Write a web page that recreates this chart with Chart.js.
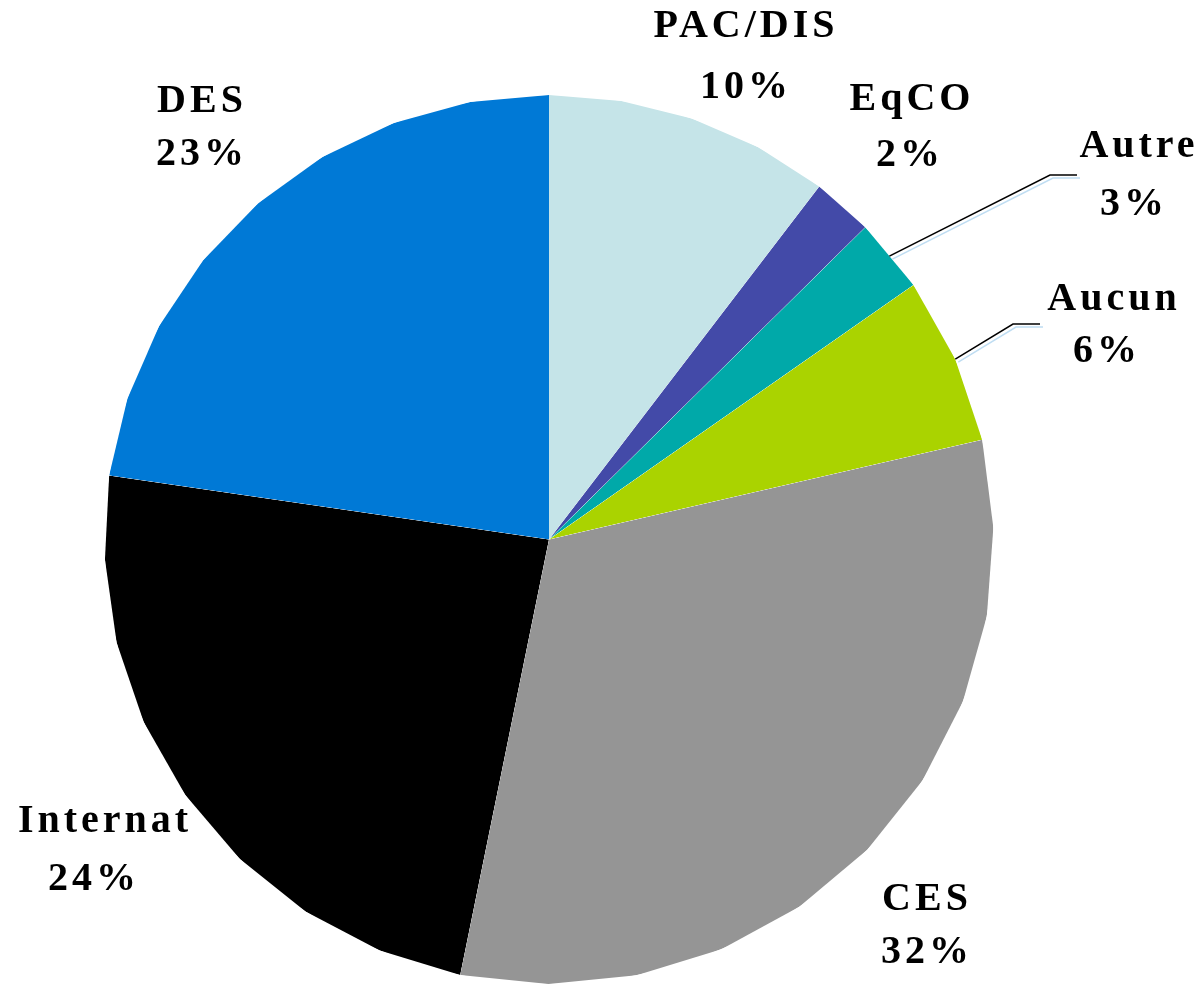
<!DOCTYPE html>
<html>
<head>
<meta charset="utf-8">
<script src="https://cdn.jsdelivr.net/npm/chart.js@4.4.1/dist/chart.umd.min.js"></script>
<style>
  html, body { margin: 0; padding: 0; background: #ffffff; }
  #wrap { position: relative; width: 1200px; height: 984px; }
</style>
</head>
<body>
<div id="wrap"><canvas id="c"></canvas></div>
<script>
// ---- data ----
const categories = ['PAC/DIS', 'EqCO', 'Autre', 'Aucun', 'CES', 'Internat', 'DES'];
const shares = [10.4, 2.2, 2.7, 6.1, 31.8, 24.1, 22.7];
const sliceColors = ['#C5E4E8', '#434AA8', '#00A9A9', '#AAD300', '#959595', '#000000', '#0079D6'];

// ---- label layout (text centre x, name baseline, percent baseline, percent centre x) ----
const labelLayout = [
  { x: 744,  y1: 37,  y2: 98,  x2: 744 },
  { x: 910,  y1: 110, y2: 166, x2: 908 },
  { x: 1137, y1: 157, y2: 215, x2: 1132 },
  { x: 1112, y1: 310, y2: 362, x2: 1105 },
  { x: 925,  y1: 910, y2: 963, x2: 925 },
  { x: 103,  y1: 832, y2: 890, x2: 92 },
  { x: 200,  y1: 112, y2: 165, x2: 200 }
];
// leader lines for small slices (index -> [label elbow, label end])
const leaders = {
  2: [[1050, 175], [1077, 175]],
  3: [[1013, 324], [1040, 324]]
};

// each slice's rim is drawn as straight segments no wider than this angle
const maxSegmentDeg = 11.5;
function segCount(arc) {
  const sweep = (arc.endAngle - arc.startAngle) * 180 / Math.PI;
  return Math.max(1, Math.ceil(sweep / maxSegmentDeg - 1e-6));
}

const polySlices = {
  id: 'polySlices',
  beforeDatasetsDraw(chart) {
    const ctx = chart.ctx;
    const meta = chart.getDatasetMeta(0);
    meta.data.forEach(arc => {
      const cx = arc.x, cy = arc.y, r = arc.outerRadius;
      const n = segCount(arc);
      const step = (arc.endAngle - arc.startAngle) / n;
      ctx.save();
      ctx.beginPath();
      ctx.moveTo(cx, cy);
      for (let k = 0; k <= n; k++) {
        const a = arc.startAngle + k * step;
        ctx.lineTo(cx + r * Math.cos(a), cy + r * Math.sin(a));
      }
      ctx.closePath();
      ctx.clip();
      arc.draw(ctx, chart.chartArea);
      ctx.restore();
    });
    return false;
  }
};

const labelsPlugin = {
  id: 'labelsPlugin',
  afterDraw(chart) {
    const ctx = chart.ctx;
    const meta = chart.getDatasetMeta(0);
    const total = shares.reduce((a, b) => a + b, 0);
    ctx.save();
    // leader lines
    Object.keys(leaders).forEach(k => {
      const i = +k;
      const arc = meta.data[i];
      const n = segCount(arc);
      const step = (arc.endAngle - arc.startAngle) / n;
      const mid = (arc.startAngle + arc.endAngle) / 2;
      const r = (n % 2 === 1) ? arc.outerRadius * Math.cos(step / 2) : arc.outerRadius;
      const sx = arc.x + r * Math.cos(mid), sy = arc.y + r * Math.sin(mid);
      const [e, f] = leaders[k];
      ctx.strokeStyle = '#BFDDF2';
      ctx.lineWidth = 1.5;
      ctx.beginPath();
      ctx.moveTo(sx + 3, sy + 3); ctx.lineTo(e[0] + 3, e[1] + 3); ctx.lineTo(f[0] + 3, f[1] + 3);
      ctx.stroke();
      ctx.strokeStyle = '#000000';
      ctx.lineWidth = 1.5;
      ctx.beginPath();
      ctx.moveTo(sx, sy); ctx.lineTo(e[0], e[1]); ctx.lineTo(f[0], f[1]);
      ctx.stroke();
    });
    ctx.fillStyle = '#000000';
    ctx.font = 'bold 40px "Liberation Serif", "Times New Roman", serif';
    ctx.textAlign = 'center';
    ctx.textBaseline = 'alphabetic';
    try { ctx.letterSpacing = '4px'; } catch (e) {}
    categories.forEach((name, i) => {
      const L = labelLayout[i];
      const pct = Math.round(shares[i] / total * 100) + '%';
      ctx.fillText(name, L.x + 2, L.y1);
      ctx.fillText(pct, L.x2 + 2, L.y2);
    });
    ctx.restore();
  }
};

new Chart(document.getElementById('c'), {
  type: 'pie',
  data: {
    labels: categories,
    datasets: [{
      data: shares,
      backgroundColor: sliceColors,
      borderWidth: 0,
      hoverOffset: 0
    }]
  },
  options: {
    responsive: true,
    maintainAspectRatio: false,
    animation: false,
    rotation: 0,
    layout: { padding: { left: 104, right: 206, top: 95, bottom: 0 } },
    plugins: {
      legend: { display: false },
      tooltip: { enabled: false }
    }
  },
  plugins: [polySlices, labelsPlugin]
});
</script>
</body>
</html>
